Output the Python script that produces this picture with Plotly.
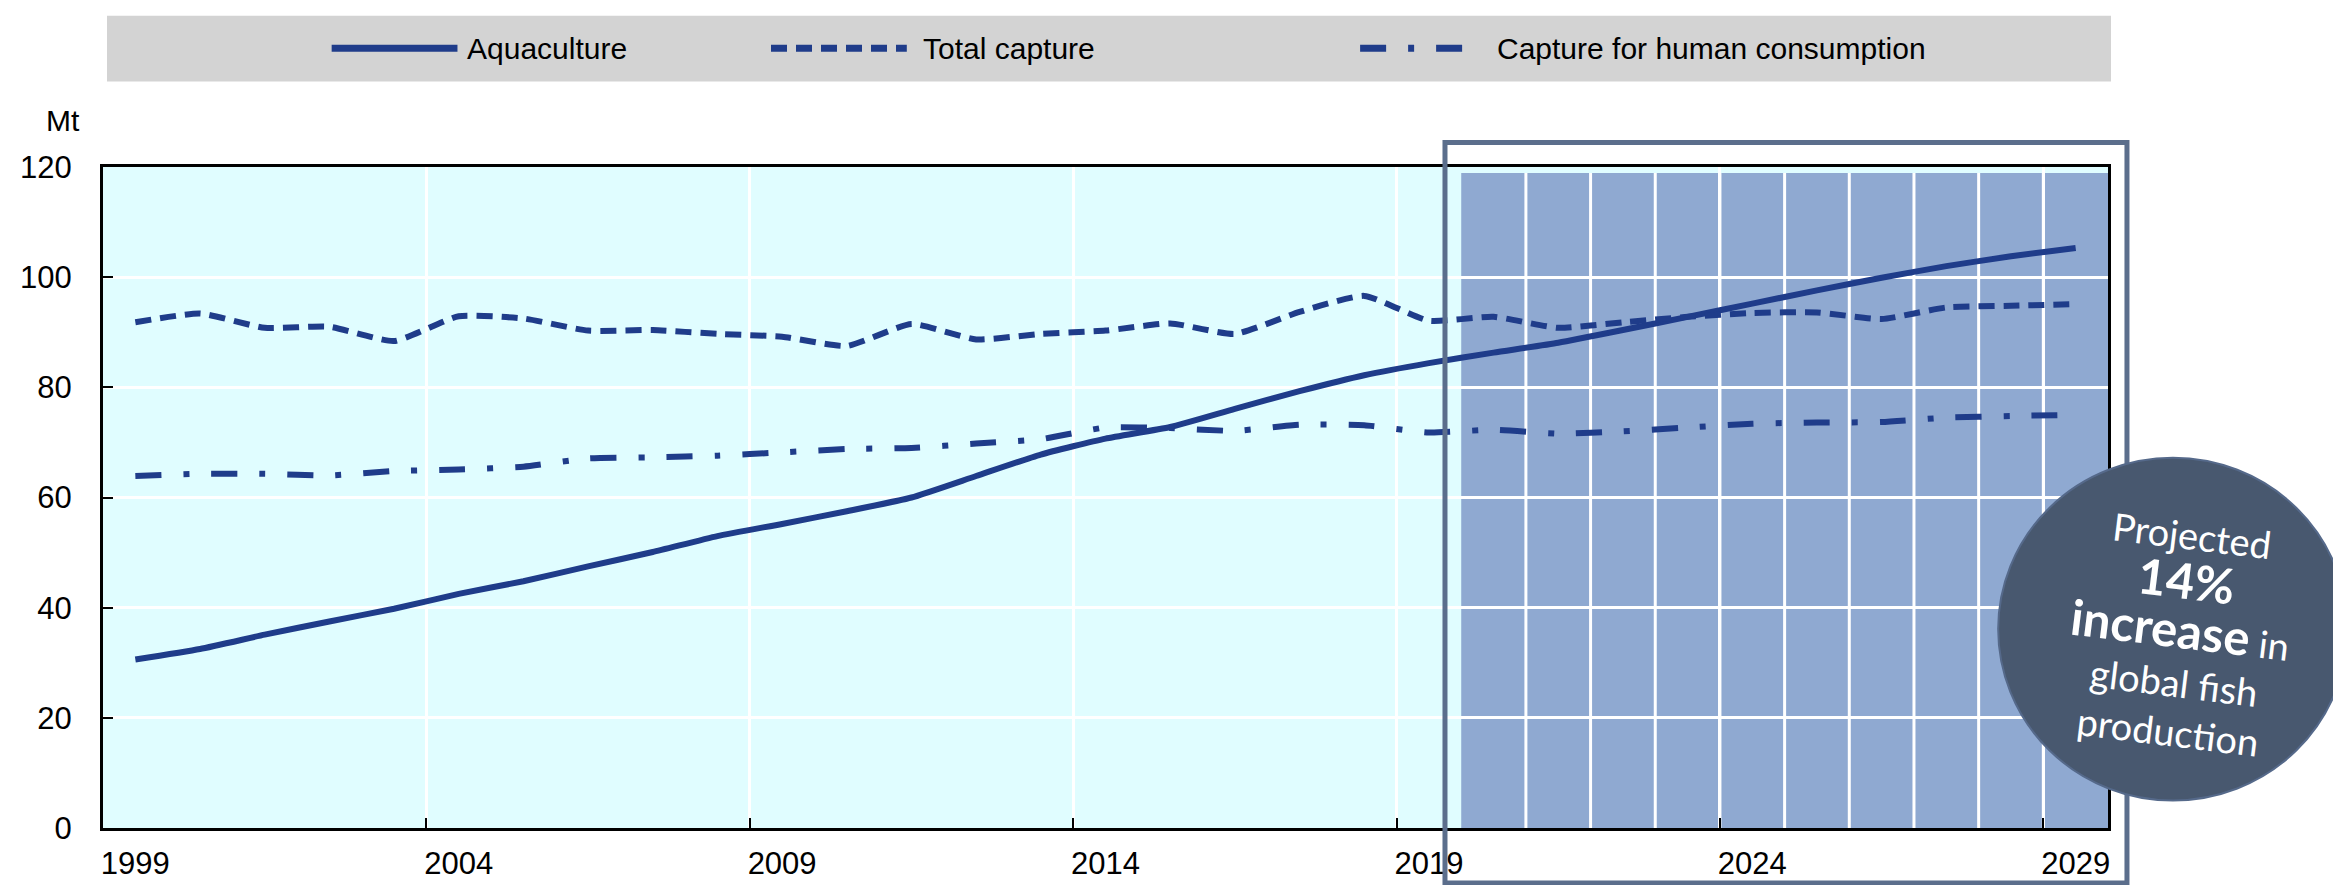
import plotly.graph_objects as go

# ---------------- data ----------------
years = list(range(1999, 2030))
aquaculture = [30.6, 32.5, 35.1, 37.5, 39.8, 42.5, 44.8, 47.5, 50.1, 53.0,
               55.2, 57.5, 60.0, 63.9, 67.8, 70.7, 72.8, 76.1, 79.3, 82.2,
               84.4, 86.3, 88.1, 90.4, 92.8, 95.2, 97.6, 99.9, 102.0, 103.8, 105.3]
total_capture = [91.8, 93.4, 90.8, 91.0, 88.4, 92.9, 92.5, 90.3, 90.4, 89.7,
                 89.2, 87.5, 91.5, 88.7, 89.7, 90.3, 91.6, 89.7, 93.7, 96.6,
                 92.1, 92.8, 90.8, 91.8, 92.8, 93.5, 93.6, 92.4, 94.5, 94.8, 95.1]
human_consumption = [63.9, 64.3, 64.3, 64.0, 64.8, 65.1, 65.6, 67.1, 67.3, 67.6,
                     68.2, 68.8, 69.0, 69.8, 70.6, 72.7, 72.6, 72.1, 73.2, 73.1,
                     71.8, 72.3, 71.6, 72.0, 72.7, 73.4, 73.6, 73.7, 74.5, 74.8, 75.0]
series_names = ["Aquaculture", "Total capture", "Capture for human consumption"]
x_tick_years = [1999, 2004, 2009, 2014, 2019, 2024, 2029]
y_ticks = [0, 20, 40, 60, 80, 100, 120]
projection_start = 2020
unit_label = "Mt"
bubble_text = ("Projected<br><span style='font-size:49px'><b>14%</b></span><br>"
               "<span style='font-size:49px'><b>increase</b></span> in<br>"
               "global fish<br>production")

# ---------------- styling / layout ----------------
W, H = 2341, 885
L, R, T, B = 92, 2100, 159, 832
NAVY = "#1F3C8A"
FONT = "Liberation Sans Narrow, Arial Narrow, Liberation Sans, Arial, sans-serif"
dash_styles = ["solid", "16px,9px", "26px,22px,6px,22px"]


def px_x(p):
    return (p - L) / (R - L)


def px_y(p):
    return (B - p) / (B - T)


fig = go.Figure()
for name, vals, dash in zip(series_names,
                            [aquaculture, total_capture, human_consumption],
                            dash_styles):
    fig.add_trace(go.Scatter(
        x=years, y=vals, name=name, mode="lines",
        line=dict(color=NAVY, width=6, dash=dash, shape="spline", smoothing=0.5),
        showlegend=False,
    ))

shapes = []
# legend band
shapes.append(dict(type="rect", xref="paper", yref="paper",
                   x0=px_x(96), x1=px_x(2103), y0=px_y(72), y1=px_y(5),
                   fillcolor="#D3D3D3", line=dict(width=0), layer="below"))
# projection shading
x_last = years[-1] + 0.5
shapes.append(dict(type="rect", xref="x", yref="y",
                   x0=projection_start - 0.5, x1=x_last, y0=0, y1=118.9,
                   fillcolor="#8FA9D1", line=dict(width=0), layer="below"))
for yr in years:
    if yr > projection_start:
        shapes.append(dict(type="line", xref="x", yref="y",
                           x0=yr - 0.5, x1=yr - 0.5, y0=0, y1=118.9,
                           line=dict(color="white", width=3), layer="below"))
# projection box
shapes.append(dict(type="rect", xref="paper", yref="paper",
                   x0=px_x(1436), x1=px_x(2119), y0=px_y(888), y1=px_y(134),
                   line=dict(color="#5B6E8C", width=5), fillcolor="rgba(0,0,0,0)",
                   layer="above"))
# bubble
shapes.append(dict(type="circle", xref="paper", yref="paper",
                   x0=px_x(1990), x1=px_x(2340), y0=px_y(804), y1=px_y(455),
                   fillcolor="#48586F", line=dict(color="#55698A", width=2),
                   layer="above"))
# custom legend symbols
leg_y = px_y(38)
for (x0, x1), dash in zip([(321, 447), (761, 897), (1351, 1465)], dash_styles):
    shapes.append(dict(type="line", xref="paper", yref="paper",
                       x0=px_x(x0), x1=px_x(x1), y0=leg_y, y1=leg_y,
                       line=dict(color=NAVY, width=7, dash=dash)))

annotations = []
for name, xs in zip(series_names, [455, 911, 1486]):
    annotations.append(dict(text=name, xref="paper", yref="paper",
                            x=px_x(xs), y=leg_y, xanchor="left", yanchor="middle",
                            showarrow=False, font=dict(family=FONT, size=30, color="black")))
annotations.append(dict(text=unit_label, xref="paper", yref="paper",
                        x=px_x(52), y=px_y(112), xanchor="center", yanchor="middle",
                        showarrow=False, font=dict(family=FONT, size=30, color="black")))
annotations.append(dict(text=bubble_text, xref="paper", yref="paper",
                        x=px_x(2172), y=px_y(633), xanchor="center", yanchor="middle",
                        showarrow=False, textangle=7, align="center",
                        font=dict(family="Lato, sans-serif", size=38, color="white")))

fig.update_layout(
    width=W, height=H,
    margin=dict(l=L, r=W - R, t=T, b=H - B, pad=0),
    paper_bgcolor="white",
    plot_bgcolor="#E0FDFF",
    shapes=shapes,
    annotations=annotations,
    font=dict(family=FONT, size=31, color="black"),
)
fig.update_xaxes(
    range=[years[0] - 0.5, x_last],
    tickmode="array", tickvals=x_tick_years, ticktext=[str(v) for v in x_tick_years],
    ticks="", showgrid=False, zeroline=False,
    showline=True, linecolor="black", linewidth=3, mirror=True,
    tickfont=dict(family=FONT, size=31, color="black"),
    ticklabelstandoff=6,
    minor=dict(tickmode="array", tickvals=[v - 0.5 for v in x_tick_years[1:]],
               ticks="inside", ticklen=10, tickwidth=2, tickcolor="black",
               showgrid=True, gridcolor="white", gridwidth=3),
)
fig.update_yaxes(
    range=[0, 120], tickmode="array", tickvals=y_ticks,
    ticks="inside", ticklen=10, tickwidth=2, tickcolor="black",
    showgrid=True, gridcolor="white", gridwidth=3, zeroline=False,
    showline=True, linecolor="black", linewidth=3, mirror=True,
    tickfont=dict(family=FONT, size=31, color="black"),
    ticklabelstandoff=22,
)

fig.write_html("out.html")
